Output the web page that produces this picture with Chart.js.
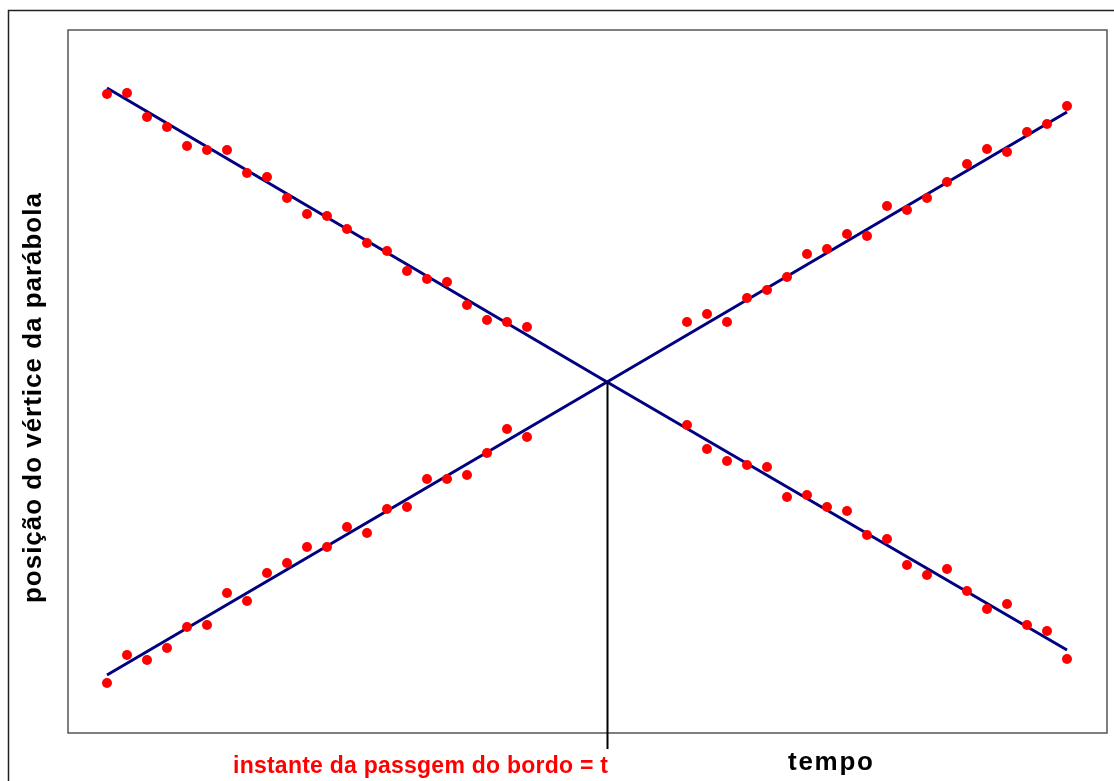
<!DOCTYPE html>
<html>
<head>
<meta charset="utf-8">
<script src="https://cdn.jsdelivr.net/npm/chart.js@4/dist/chart.umd.min.js"></script>
<style>
  html, body { margin: 0; padding: 0; background: #fff; }
  canvas { display: block; }
</style>
</head>
<body>
<canvas id="vertexChart" width="1114" height="781"></canvas>
<script>
// instantes (índice da medida) antes e depois da passagem
var tempoAntes = [0, 1, 2, 3, 4, 5, 6, 7, 8, 9, 10, 11, 12, 13, 14, 15, 16, 17, 18, 19, 20, 21];
var tempoDepois = [29, 30, 31, 32, 33, 34, 35, 36, 37, 38, 39, 40, 41, 42, 43, 44, 45, 46, 47, 48];

// posição do vértice medida (unidades arbitrárias)
var descendoAntes = [639, 640, 616, 606, 587, 583, 583, 560, 556, 535, 519, 517, 504, 490, 482, 462, 454, 451, 428, 413, 411, 406];
var subindoAntes = [50, 78, 73, 85, 106, 108, 140, 132, 160, 170, 186, 186, 206, 200, 224, 226, 254, 254, 258, 280, 304, 296];
var subindoDepois = [411, 419, 411, 435, 443, 456, 479, 484, 499, 497, 527, 523, 535, 551, 569, 584, 581, 601, 609, 627];
var descendoDepois = [308, 284, 272, 268, 266, 236, 238, 226, 222, 198, 194, 168, 158, 164, 142, 124, 129, 108, 102, 74];

// retas ajustadas (início, cruzamento, fim)
var tempoReta = [0, 25, 48];
var retaDescendo = [645, 351, 83];
var retaSubindo = [58, 351, 621];

// instante da passagem
var tPassagem = 25;
var yPassagem = 351;

function pares(xs, ys) {
    return xs.map(function (x, i) { return { x: x, y: ys[i] }; });
}

// escreve o texto a partir de "left" ocupando a largura pedida
function textoAjustado(ctx, texto, left, base, largura) {
    ctx.textAlign = 'left';
    ctx.textBaseline = 'alphabetic';
    if ('letterSpacing' in ctx) {
        ctx.letterSpacing = '0px';
        var w = ctx.measureText(texto).width;
        var sp = (largura - w) / (texto.length - 1);
        ctx.letterSpacing = sp.toFixed(2) + 'px';
        ctx.fillText(texto, left, base);
        ctx.letterSpacing = '0px';
    } else {
        ctx.fillText(texto, left, base);
    }
}

var pontos = {
    type: 'scatter',
    showLine: false,
    backgroundColor: '#ff0000',
    borderColor: '#ff0000',
    pointRadius: 5,
    pointBorderWidth: 0,
    order: 0
};

var reta = {
    type: 'scatter',
    showLine: true,
    fill: false,
    borderColor: '#000080',
    borderWidth: 3,
    pointRadius: 0,
    tension: 0,
    order: 1
};

var molduraETextos = {
    id: 'molduraETextos',
    afterDraw: function (chart) {
        var ctx = chart.ctx;
        var area = chart.chartArea;
        var sx = chart.scales.x;
        var sy = chart.scales.y;
        ctx.save();

        // moldura externa
        ctx.strokeStyle = '#222';
        ctx.lineWidth = 1.5;
        ctx.strokeRect(8.5, 10.5, 3000, 3000);

        // moldura da área do gráfico
        ctx.strokeStyle = '#555';
        ctx.lineWidth = 1.5;
        ctx.strokeRect(area.left, area.top, area.right - area.left, area.bottom - area.top);

        // linha vertical no instante da passagem
        var px = Math.round(sx.getPixelForValue(tPassagem)) + 0.5;
        ctx.strokeStyle = '#000';
        ctx.lineWidth = 2;
        ctx.beginPath();
        ctx.moveTo(px, sy.getPixelForValue(yPassagem));
        ctx.lineTo(px, area.bottom + 16);
        ctx.stroke();

        // rótulo do instante
        ctx.fillStyle = '#ff0000';
        ctx.font = 'bold 23px "Liberation Sans", Arial, sans-serif';
        textoAjustado(ctx, 'instante da passgem do bordo = t', 233, 773, 375);

        // título do eixo x
        ctx.fillStyle = '#000';
        ctx.font = 'bold 26px "Liberation Sans", Arial, sans-serif';
        textoAjustado(ctx, 'tempo', 788, 770, 85);

        // título do eixo y
        ctx.translate(41, 603);
        ctx.rotate(-Math.PI / 2);
        ctx.font = 'bold 26px "Liberation Sans", Arial, sans-serif';
        textoAjustado(ctx, 'posição do vértice da parábola', 0, 0, 410);

        ctx.restore();
    }
};

var ctx = document.getElementById('vertexChart').getContext('2d');
var vertexChart = new Chart(ctx, {
    type: 'scatter',
    data: {
        datasets: [
            Object.assign({ label: 'descendo antes', data: pares(tempoAntes, descendoAntes) }, pontos),
            Object.assign({ label: 'subindo antes', data: pares(tempoAntes, subindoAntes) }, pontos),
            Object.assign({ label: 'subindo depois', data: pares(tempoDepois, subindoDepois) }, pontos),
            Object.assign({ label: 'descendo depois', data: pares(tempoDepois, descendoDepois) }, pontos),
            Object.assign({ label: 'ajuste descendo', data: pares(tempoReta, retaDescendo) }, reta),
            Object.assign({ label: 'ajuste subindo', data: pares(tempoReta, retaSubindo) }, reta)
        ]
    },
    options: {
        responsive: false,
        animation: false,
        layout: { padding: { left: 68, top: 30, right: 7, bottom: 48 } },
        plugins: {
            legend: { display: false },
            tooltip: { enabled: false }
        },
        scales: {
            x: { type: 'linear', display: false, min: -1.95, max: 50 },
            y: { type: 'linear', display: false, min: 0, max: 703 }
        }
    },
    plugins: [molduraETextos]
});
</script>
</body>
</html>
